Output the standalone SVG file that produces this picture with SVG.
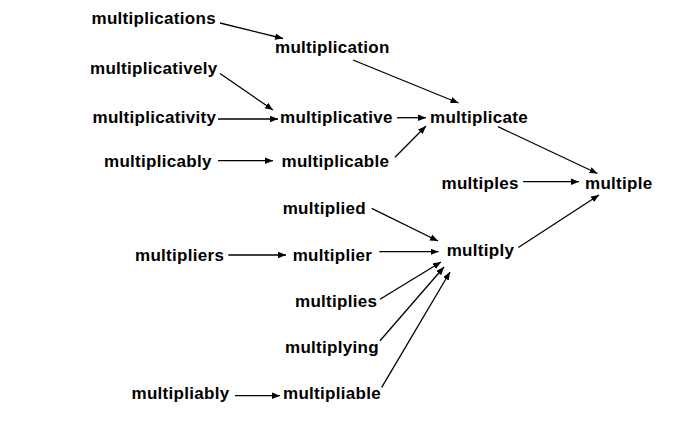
<svg xmlns="http://www.w3.org/2000/svg" width="699" height="421" viewBox="0 0 699 421">
<defs>
<marker id="ah" markerUnits="userSpaceOnUse" markerWidth="8" markerHeight="7" refX="8" refY="3.25" orient="auto">
<path d="M0,0 L8,3.25 L0,6.5 z" fill="#000"/>
</marker>
<style>
text{font-family:"Liberation Sans",Arial,Helvetica,sans-serif;font-weight:bold;font-size:17px;letter-spacing:0.3px;fill:#000}
.e line{stroke:#000;stroke-width:1.3;marker-end:url(#ah)}
</style>
</defs>
<rect width="699" height="421" fill="#fff"/>
<g class="e" id="connectors">
<line x1="220" y1="23" x2="283" y2="38.5"/>
<line x1="353" y1="60" x2="458.5" y2="103"/>
<line x1="220" y1="73.5" x2="273" y2="110"/>
<line x1="218" y1="119" x2="278" y2="119"/>
<line x1="397" y1="117.7" x2="426" y2="117.7"/>
<line x1="395" y1="157.3" x2="426" y2="126"/>
<line x1="218" y1="160.7" x2="273" y2="160.7"/>
<line x1="498" y1="126.7" x2="597.5" y2="173.5"/>
<line x1="523" y1="181.7" x2="579" y2="181.7"/>
<line x1="518.3" y1="247.5" x2="599" y2="195"/>
<line x1="371.7" y1="208.3" x2="438" y2="241"/>
<line x1="379.3" y1="251.7" x2="438.5" y2="251.7"/>
<line x1="228.3" y1="255" x2="286" y2="255"/>
<line x1="380" y1="299.3" x2="441" y2="262"/>
<line x1="380" y1="340.7" x2="444" y2="267"/>
<line x1="381.7" y1="387.3" x2="450" y2="272"/>
<line x1="235" y1="395.7" x2="280" y2="395.7"/>
</g>
<g id="multiplications"><text x="91.5" y="24">multiplications</text></g>
<g id="multiplication"><text x="275" y="53.3">multiplication</text></g>
<g id="multiplicatively"><text x="90" y="74">multiplicatively</text></g>
<g id="multiplicativity"><text x="92.5" y="122.7">multiplicativity</text></g>
<g id="multiplicative"><text x="280" y="122.7">multiplicative</text></g>
<g id="multiplicate"><text x="430" y="122.7">multiplicate</text></g>
<g id="multiplicably"><text x="104" y="166.7">multiplicably</text></g>
<g id="multiplicable"><text x="281.5" y="166.7">multiplicable</text></g>
<g id="multiples"><text x="441.5" y="189">multiples</text></g>
<g id="multiple"><text x="585" y="189">multiple</text></g>
<g id="multiplied"><text x="282.7" y="214">multiplied</text></g>
<g id="multipliers"><text x="135" y="260.7">multipliers</text></g>
<g id="multiplier"><text x="292.7" y="260.7">multiplier</text></g>
<g id="multiply"><text x="446.7" y="256">multiply</text></g>
<g id="multiplies"><text x="295" y="307.3">multiplies</text></g>
<g id="multiplying"><text x="285" y="353.3">multiplying</text></g>
<g id="multipliably"><text x="131.5" y="399">multipliably</text></g>
<g id="multipliable"><text x="283" y="399">multipliable</text></g>
</svg>
